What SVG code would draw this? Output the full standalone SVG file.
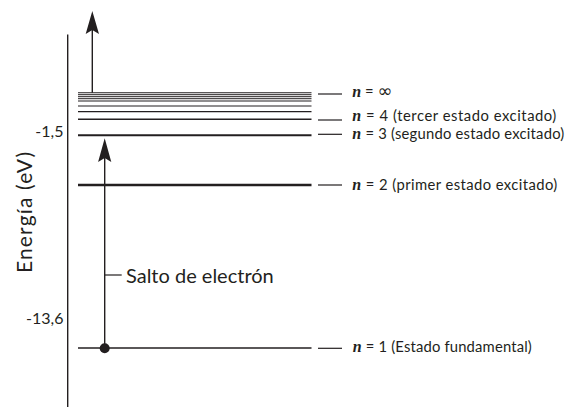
<svg xmlns="http://www.w3.org/2000/svg" width="569" height="407" viewBox="0 0 569 407">
<style>
.ax{stroke:#231f20;stroke-width:1.4;fill:none}
.lv{stroke:#231f20;fill:none}
.tk{stroke:#231f20;stroke-width:1.2;fill:none}
.lbl{font-family:Lato,"Open Sans","Liberation Sans",sans-serif;font-size:14.8px;fill:#231f20}
.n{font-family:"Liberation Serif","DejaVu Serif",serif;font-style:italic;font-weight:bold;font-size:16px}
.inf{font-family:"DejaVu Sans",sans-serif;font-size:18px}
.big{font-family:Lato,"Open Sans","Liberation Sans",sans-serif;font-size:20px;fill:#231f20}
</style>
<rect width="569" height="407" fill="#fff"/>
<g id="axis">
<line class="ax" x1="67.7" y1="34.5" x2="67.7" y2="407"/>
<text class="lbl" x="63.5" y="136.5" text-anchor="end" style="font-size:16px">-1,5</text>
<text class="lbl" x="63.5" y="324" text-anchor="end" style="font-size:16px">-13,6</text>
<text class="big" transform="translate(32,212.5) rotate(-90)" text-anchor="middle" style="font-size:21px" textLength="121">Energía (eV)</text>
</g>
<g id="level-inf">
<line class="lv" x1="78" y1="92.7" x2="311.5" y2="92.7" stroke-width="1.1"/>
<line class="lv" x1="78" y1="94.7" x2="311.5" y2="94.7" stroke-width="1"/>
<line class="lv" x1="78" y1="96.7" x2="311.5" y2="96.7" stroke-width="1"/>
<line class="lv" x1="78" y1="98.7" x2="311.5" y2="98.7" stroke-width="1"/>
<line class="lv" x1="78" y1="101" x2="311.5" y2="101" stroke-width="1.1"/>
<line class="lv" x1="78" y1="106" x2="311.5" y2="106" stroke-width="1.2"/>
<line class="lv" x1="78" y1="111.7" x2="311.5" y2="111.7" stroke-width="1.3"/>
<text class="lbl" x="352.3" y="96.7"><tspan class="n">n</tspan> = <tspan class="inf">∞</tspan></text>
</g>
<g id="level-4">
<line class="lv" x1="78" y1="119.3" x2="311.5" y2="119.3" stroke-width="1.5"/>
<text class="lbl" x="352.3" y="121.3" textLength="204">
<tspan class="n">n</tspan> = 4 (tercer estado excitado)</text>
</g>
<g id="level-3">
<line class="lv" x1="78" y1="135.3" x2="311.5" y2="135.3" stroke-width="2"/>
<text class="lbl" x="352.3" y="139.3" textLength="212"><tspan class="n">n</tspan> = 3 (segundo estado excitado)</text>
</g>
<g id="level-2">
<line class="lv" x1="78" y1="185" x2="311.5" y2="185" stroke-width="2.6"/>
<text class="lbl" x="352.3" y="190" textLength="205"><tspan class="n">n</tspan> = 2 (primer estado excitado)</text>
</g>
<g id="level-1">
<line class="lv" x1="78" y1="348" x2="311.5" y2="348" stroke-width="1.5"/>
<text class="lbl" x="352.8" y="352.3" textLength="179"><tspan class="n">n</tspan> = 1 (Estado fundamental)</text>
</g>
<g id="jump-label">
<text class="big" x="126" y="283.3">Salto de electrón</text>
</g>
<g id="connectors">
<line class="tk" x1="318" y1="94" x2="342" y2="94"/>
<line class="tk" x1="318" y1="120" x2="342" y2="120"/>
<line class="tk" x1="318" y1="134.3" x2="342" y2="134.3"/>
<line class="tk" x1="318" y1="185" x2="342" y2="185"/>
<line class="tk" x1="318" y1="348.3" x2="342" y2="348.3"/>
<line class="tk" x1="104.7" y1="275" x2="121.7" y2="275"/>
<line class="ax" x1="92.3" y1="92.7" x2="92.3" y2="28"/>
<polygon points="92.3,11 99,34 92.3,30 85.7,34" fill="#231f20"/>
<line class="ax" x1="104.7" y1="348" x2="104.7" y2="156"/>
<polygon points="104.7,138.3 111.3,162 104.7,158 98.1,162" fill="#231f20"/>
<circle cx="104.7" cy="348.3" r="5" fill="#231f20"/>
</g>
</svg>
